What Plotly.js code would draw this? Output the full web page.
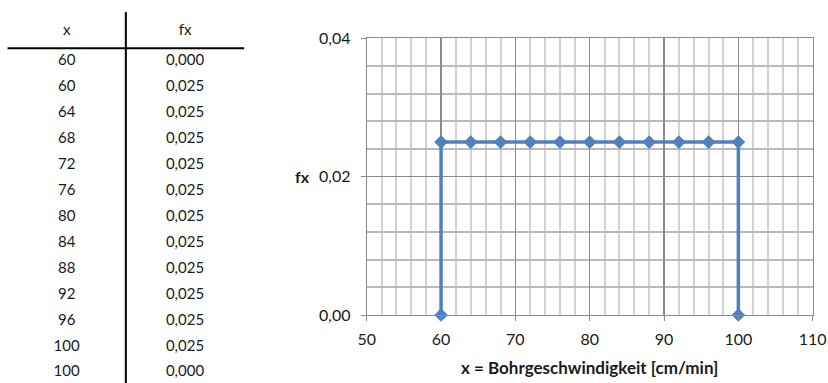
<!DOCTYPE html>
<html>
<head>
<meta charset="utf-8">
<script src="https://cdn.plot.ly/plotly-3.0.1.min.js"></script>
<style>
  html, body { margin: 0; padding: 0; background: #ffffff; }
  #chart { width: 828px; height: 383px; }
</style>
</head>
<body>
<div id="chart"></div>
<script>
// Uniform density on [60, 100] cm/min, sampled every 4 cm/min
const xValues  = [60, 60, 64, 68, 72, 76, 80, 84, 88, 92, 96, 100, 100];
const fxValues = [0.000, 0.025, 0.025, 0.025, 0.025, 0.025, 0.025, 0.025, 0.025, 0.025, 0.025, 0.025, 0.000];

// Value table headers
const tableColumns = ['x', 'fx'];

const FONT = 'Lato, "Open Sans", "Liberation Sans", sans-serif';
const TEXT = '#1a1a1a';
const LINE_BLUE = '#4F81BD';

// Table cell texts, one row per sample
const rowIndex = xValues.map((_, i) => i);
const xCellText = xValues.map(v => String(v));
const fxCellText = fxValues.map(v => v.toFixed(3).replace('.', ','));

const headerRow = -1.18;

const tableHeader = {
  type: 'scatter', mode: 'text',
  xaxis: 'x2', yaxis: 'y2',
  x: tableColumns, y: tableColumns.map(() => headerRow),
  text: tableColumns,
  textfont: { family: FONT, size: 15, color: TEXT },
  hoverinfo: 'skip', showlegend: false
};

const tableBody = {
  type: 'scatter', mode: 'text',
  xaxis: 'x2', yaxis: 'y2',
  x: rowIndex.map(() => tableColumns[0]).concat(rowIndex.map(() => tableColumns[1])),
  y: rowIndex.concat(rowIndex),
  text: xCellText.concat(fxCellText),
  textfont: { family: FONT, size: 15, color: TEXT },
  hoverinfo: 'skip', showlegend: false
};

const density = {
  type: 'scatter', mode: 'lines+markers',
  x: xValues, y: fxValues,
  line: { color: LINE_BLUE, width: 3.5 },
  marker: { symbol: 'diamond', size: 10.5, color: LINE_BLUE },
  cliponaxis: false,
  hoverinfo: 'skip', showlegend: false
};

const layout = {
  width: 828, height: 383,
  margin: { l: 0, r: 0, t: 0, b: 0 },
  paper_bgcolor: '#ffffff', plot_bgcolor: '#ffffff',
  separators: ',.',
  font: { family: FONT, size: 16, color: TEXT },
  showlegend: false,
  xaxis: {
    domain: [0.4429, 0.9815],
    range: [50, 110], dtick: 10, tick0: 50,
    showgrid: true, gridcolor: '#8a8a8a', gridwidth: 1.2,
    minor: { dtick: 2, showgrid: true, gridcolor: '#d2d2d2', gridwidth: 2 },
    showline: true, linecolor: '#8a8a8a', linewidth: 1, mirror: true,
    ticks: 'outside', ticklen: 5, tickcolor: '#8a8a8a',
    ticklabelstandoff: 5,
    zeroline: false, fixedrange: true,
    tickfont: { family: FONT, size: 16, color: TEXT },
    title: { text: '<b>x = Bohrgeschwindigkeit [cm/min]</b>', standoff: 14,
             font: { family: FONT, size: 17, color: TEXT } }
  },
  yaxis: {
    domain: [0.1775, 0.9],
    range: [0, 0.04], dtick: 0.02, tick0: 0, tickformat: '.2f',
    showgrid: true, gridcolor: '#8a8a8a', gridwidth: 1.2,
    minor: { dtick: 0.004, showgrid: true, gridcolor: '#bababa', gridwidth: 2 },
    showline: true, linecolor: '#8a8a8a', linewidth: 1, mirror: true,
    ticks: 'outside', ticklen: 5, tickcolor: '#8a8a8a',
    ticklabelstandoff: 7,
    zeroline: false, fixedrange: true,
    tickfont: { family: FONT, size: 16, color: TEXT }
  },
  xaxis2: {
    domain: [0.00906, 0.2949], anchor: 'y2',
    type: 'category', categoryarray: tableColumns, range: [-0.5, 1.5],
    visible: false, fixedrange: true
  },
  yaxis2: {
    domain: [0, 1], anchor: 'x2',
    range: [12.396, -2.380],
    visible: false, fixedrange: true
  },
  shapes: [
    // header rule
    { type: 'line', xref: 'x2 domain', yref: 'y2', x0: 0, x1: 1, y0: -0.52, y1: -0.52,
      line: { color: '#000000', width: 2 } },
    // column divider
    { type: 'line', xref: 'x2 domain', yref: 'y2', x0: 0.5, x1: 0.5, y0: -1.92, y1: 12.4,
      line: { color: '#000000', width: 2 } }
  ],
  annotations: [
    { text: '<b>fx</b>', xref: 'paper', yref: 'y', x: 0.3765, y: 0.02,
      xanchor: 'right', yanchor: 'middle', showarrow: false,
      font: { family: FONT, size: 16, color: TEXT } }
  ]
};

Plotly.newPlot('chart', [tableHeader, tableBody, density], layout,
  { displayModeBar: false, staticPlot: true });
</script>
</body>
</html>
